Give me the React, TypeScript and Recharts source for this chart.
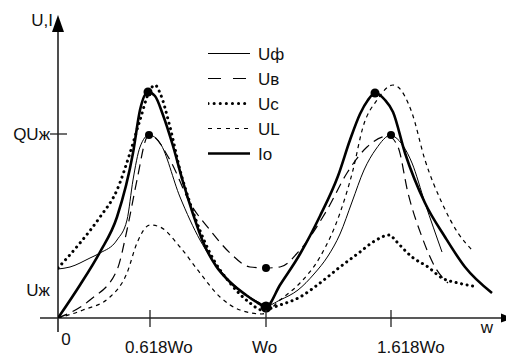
import { LineChart, Line, XAxis, YAxis, ReferenceLine, ReferenceDot, Legend, Label } from 'recharts';

const FONT = '"Liberation Sans", Arial, sans-serif';

// x in drawing units: 0.618Wo = 92, Wo = 208, 1.618Wo = 333
const xTicks = [0, 92, 208, 333];
const xTickLabels = ['0', '0.618Wo', 'Wo', '1.618Wo'];
const yTicks = [49, 184];
const yTickLabels = ['Uж', 'QUж'];

// Uф
const ufX = [0, 12, 32, 42, 59, 69, 75, 82, 91, 102, 122, 142, 162, 182, 202, 208, 222, 240, 256, 270, 282, 294, 306, 318, 333, 337, 354, 367, 384];
const ufY = [49, 51, 60, 65, 78, 98, 138, 171, 183, 175, 121, 78, 48, 28, 15, 12, 18, 28, 44, 62, 84, 116, 148, 169, 183, 181, 155, 115, 66];
// Uв
const uvX = [0, 32, 59, 69, 79, 89, 92, 112, 132, 152, 172, 192, 208, 222, 242, 269, 289, 309, 330, 340, 350, 364, 377, 390];
const uvY = [0, 18, 48, 88, 138, 181, 183, 158, 115, 88, 65, 51, 50, 51, 68, 108, 145, 171, 182, 171, 125, 81, 51, 35];
// Uc
const ucX = [0, 22, 42, 59, 72, 82, 92, 97, 102, 112, 122, 132, 152, 172, 192, 204, 222, 242, 262, 282, 302, 315, 332, 337, 354, 370, 384, 400, 415];
const ucY = [50, 75, 101, 128, 165, 198, 228, 233, 225, 191, 148, 115, 65, 35, 15, 8, 13, 21, 35, 51, 66, 76, 83, 78, 61, 51, 40, 35, 32];
// UL
const ulX = [0, 25, 52, 69, 79, 92, 102, 122, 142, 162, 182, 204, 222, 242, 262, 282, 295, 305, 319, 335, 340, 354, 367, 384, 400, 414];
const ulY = [0, 8, 21, 45, 75, 93, 91, 71, 45, 21, 8, 4, 18, 35, 61, 105, 148, 191, 218, 233, 231, 205, 158, 115, 85, 68];
// Io
const ioX = [0, 22, 42, 59, 75, 82, 90, 97, 105, 115, 125, 135, 145, 158, 172, 188, 200, 208, 222, 242, 262, 280, 292, 302, 310, 317, 327, 335, 347, 367, 387, 407, 434];
const ioY = [0, 33, 66, 101, 165, 208, 226, 222, 203, 172, 136, 104, 76, 52, 36, 23, 15, 11, 33, 64, 102, 142, 178, 204, 218, 225, 218, 206, 165, 115, 81, 51, 25];

// marked points (black dots)
const ufMarks = [91, 333];
const uvMarks = [208];
const ioMarks = [90, 208, 317];

const toPoints = (xs: number[], ys: number[]) => xs.map((x, i) => ({ x, y: ys[i] }));

const makeDot = (marks: number[], r: number) => (props: any) => {
    const { cx, cy, payload, index } = props;
    if (!marks.includes(payload.x)) return <g key={`n-${index}`} />;
    const rr = payload.x === 208 && r > 4 ? r + 1 : r;
    return <circle key={`m-${index}`} cx={cx} cy={cy} r={rr} fill="#000" />;
};

const SERIES = [
    { name: 'Uф', data: toPoints(ufX, ufY), width: 1, dash: undefined, legendDash: undefined, cap: 'butt', marks: ufMarks, r: 4 },
    { name: 'Uв', data: toPoints(uvX, uvY), width: 1.2, dash: '10 6', legendDash: '13 12', cap: 'butt', marks: uvMarks, r: 4 },
    { name: 'Uc', data: toPoints(ucX, ucY), width: 3, dash: '0.1 5.5', legendDash: '0.1 6', cap: 'round', marks: [], r: 0 },
    { name: 'UL', data: toPoints(ulX, ulY), width: 1.2, dash: '4 4', legendDash: '4 5', cap: 'butt', marks: [], r: 0 },
    { name: 'Io', data: toPoints(ioX, ioY), width: 2.6, dash: undefined, legendDash: undefined, cap: 'butt', marks: ioMarks, r: 4.5 },
];

const renderLegend = () => (
    <svg width={110} height={125} style={{ display: 'block' }}>
        {SERIES.map((s, i) => (
            <g key={s.name} transform={`translate(0, ${12.5 + i * 25})`}>
                <line x1={0} x2={42} y1={0} y2={0} stroke="#000" strokeWidth={s.width}
                    strokeDasharray={s.legendDash} strokeLinecap={s.cap as any} />
                <text x={50} y={6} fontSize={17} fontFamily={FONT} fill="#111">{s.name}</text>
            </g>
        ))}
    </svg>
);

// label offsets relative to tick position
const xLabelDx = [8, -25, -14, -14];

const renderXTick = (props: any) => {
    const { x, y, payload } = props;
    const i = xTicks.indexOf(payload.value);
    const isZero = payload.value === 0;
    return (
        <g>
            {!isZero && <line x1={x} x2={x} y1={y - 8} y2={y + 9} stroke="#222" strokeWidth={1.3} />}
            <text x={x + xLabelDx[i]} y={y + (isZero ? 27 : 35)} textAnchor={isZero ? 'middle' : 'start'}
                fontSize={17} fontFamily={FONT} fill="#111">
                {xTickLabels[i]}
            </text>
        </g>
    );
};

const renderYTick = (props: any) => {
    const { x, y, payload } = props;
    const i = yTicks.indexOf(payload.value);
    const isTop = i === 1;
    return (
        <g>
            {isTop && <line x1={x - 8} x2={x + 9} y1={y} y2={y} stroke="#222" strokeWidth={1.3} />}
            <text x={x - 8} y={y + (isTop ? 6 : 27)} textAnchor="end" fontSize={17} fontFamily={FONT} fill="#111">
                {yTickLabels[i]}
            </text>
        </g>
    );
};

const arrowRight = (p: any) => (
    <polygon points={`${p.cx},${p.cy} ${p.cx - 12},${p.cy - 4.5} ${p.cx - 12},${p.cy + 4.5}`} fill="#000" />
);
const arrowUp = (p: any) => (
    <polygon points={`${p.cx},${p.cy} ${p.cx - 6},${p.cy + 17} ${p.cx + 6},${p.cy + 17}`} fill="#000" />
);

export default function App() {
    return (
        <div style={{ width: 506, height: 348, background: '#fff' }}>
            <LineChart width={506} height={348} margin={{ top: 4, right: 6, left: 0, bottom: 8 }}>
                <XAxis type="number" dataKey="x" domain={[0, 450]} ticks={xTicks} interval={0}
                    axisLine={false} tickLine={false} tickSize={0} tickMargin={0} height={30}
                    tick={renderXTick} allowDataOverflow>
                    <Label content={(p: any) => (
                        <text x={p.viewBox.x + p.viewBox.width - 21} y={p.viewBox.y + 15} textAnchor="middle"
                            fontSize={17} fontFamily={FONT} fill="#111">w</text>
                    )} />
                </XAxis>
                <YAxis type="number" dataKey="y" domain={[0, 306]} ticks={yTicks} interval={0}
                    axisLine={false} tickLine={false} tickSize={0} tickMargin={0} width={50}
                    tick={renderYTick} allowDataOverflow>
                    <Label content={(p: any) => (
                        <text x={p.viewBox.x + p.viewBox.width - 5} y={p.viewBox.y + 14} textAnchor="end"
                            fontSize={17} fontFamily={FONT} fill="#111">U,I</text>
                    )} />
                </YAxis>
                <ReferenceLine segment={[{ x: -18, y: 0 }, { x: 446, y: 0 }]} stroke="#222" strokeWidth={1.6} ifOverflow="visible" />
                <ReferenceLine segment={[{ x: 0, y: -14 }, { x: 0, y: 290 }]} stroke="#222" strokeWidth={1.6} ifOverflow="visible" />
                <ReferenceDot x={455} y={0} r={1} shape={arrowRight} ifOverflow="visible" />
                <ReferenceDot x={0} y={303} r={1} shape={arrowUp} ifOverflow="visible" />
                <Legend layout="vertical" align="center" verticalAlign="middle" content={renderLegend}
                    wrapperStyle={{ left: 200, top: 33, width: 110, height: 125 }} />
                {SERIES.map((s) => (
                    <Line key={s.name} name={s.name} data={s.data} dataKey="y" type="monotone"
                        stroke="#000" strokeWidth={s.width} strokeDasharray={s.dash} strokeLinecap={s.cap as any}
                        dot={makeDot(s.marks, s.r)} activeDot={false} isAnimationActive={false} />
                ))}
            </LineChart>
        </div>
    );
}
